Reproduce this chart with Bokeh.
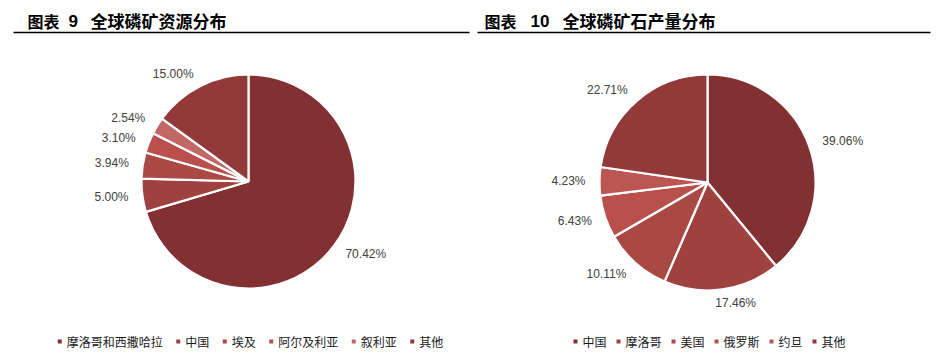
import math
from bokeh.plotting import figure
from bokeh.models import Range1d, ColumnDataSource
from bokeh.core.properties import value
from bokeh.embed import file_html
from bokeh.resources import INLINE

# ---------------- data ----------------
res_categories = ["摩洛哥和西撒哈拉", "中国", "埃及", "阿尔及利亚", "叙利亚", "其他"]
res_values = [70.42, 5.00, 3.94, 3.10, 2.54, 15.00]

prod_categories = ["中国", "摩洛哥", "美国", "俄罗斯", "约旦", "其他"]
prod_values = [39.06, 17.46, 10.11, 6.43, 4.23, 22.71]

res_colors = ["#833033", "#9f423f", "#aa4844", "#b9504b", "#c26864", "#923a3a"]
prod_colors = ["#833033", "#9f423f", "#aa4844", "#b9504b", "#bc5652", "#923a3a"]

W, H = 947, 356


def Y(img_y):
    return H - img_y


p = figure(width=W, height=H, output_backend="svg", toolbar_location=None,
           x_range=Range1d(0, W), y_range=Range1d(0, H),
           x_axis_type=None, y_axis_type=None, min_border=0,
           outline_line_color=None)
p.xgrid.visible = False
p.ygrid.visible = False
p.background_fill_color = "white"
p.border_fill_color = "white"

LABEL_FONT = value("Liberation Sans")
CJK_FONT = value("Noto Sans CJK SC")


def draw_pie(cats, vals, colors, cx, cy_img, r, legend_gap):
    cy = Y(cy_img)
    total = sum(vals)
    starts, ends, mids = [], [], []
    acc = 0.0
    for v in vals:
        f0 = acc / total
        acc += v
        f1 = acc / total
        starts.append(math.pi / 2 - f0 * 2 * math.pi)
        ends.append(math.pi / 2 - f1 * 2 * math.pi)
        mids.append((f0 + f1) / 2 * 2 * math.pi)  # clockwise from top
    src = ColumnDataSource(dict(start=starts, end=ends, color=colors))
    p.wedge(x=cx, y=cy, radius=r, start_angle="start", end_angle="end",
            direction="clock", fill_color="color", line_color="white",
            line_width=2.2, source=src)

    # data labels
    lx, ly, txt, align, xoff = [], [], [], [], []
    for v, m in zip(vals, mids):
        s, c = math.sin(m), math.cos(m)
        rr = r + 14
        lx.append(cx + rr * s)
        ly.append(cy + rr * c)
        t = f"{v:.2f}%"
        txt.append(t)
        w = 6.67 * (len(t) - 2) + 3.3 + 10.7
        f = max(-1.0, min(1.0, 4 * s))
        if f >= 1:
            align.append("left"); xoff.append(0)
        elif f <= -1:
            align.append("right"); xoff.append(0)
        else:
            align.append("center"); xoff.append(f * w / 2)
    lsrc = ColumnDataSource(dict(x=lx, y=ly, text=txt, align=align, xoff=xoff))
    p.text(x="x", y="y", text="text", text_align="align", x_offset="xoff",
           text_baseline="middle", text_font=LABEL_FONT, text_font_size="12px",
           text_color="#404040", source=lsrc)

    # legend
    widths = [7 + 12 * len(cname) for cname in cats]
    total_w = sum(widths) + legend_gap * (len(cats) - 1)
    x = cx - total_w / 2 + 3
    mx, tx = [], []
    for wdt in widths:
        mx.append(x)
        tx.append(x + 7)
        x += wdt + legend_gap
    ly_leg = Y(341)
    p.scatter(x=mx, y=[ly_leg] * len(mx), marker="square", size=4,
              fill_color=colors, line_color=None)
    p.text(x=tx, y=[ly_leg] * len(tx), text=cats, text_baseline="middle",
           text_font=CJK_FONT, text_font_size="12px", text_color="#1a1a1a")


draw_pie(res_categories, res_values, res_colors, 248, 181, 107, 15.5)
draw_pie(prod_categories, prod_values, prod_colors, 707, 182, 108, 12)

# titles
title_y = Y(20)
p.text(x=[27, 484], y=[title_y, title_y], text=["图表", "图表"],
       text_font=CJK_FONT, text_font_style="bold", text_font_size="16px",
       text_baseline="middle", text_color="black")
p.text(x=[68, 530], y=[title_y, title_y], text=["9", "10"],
       text_font=LABEL_FONT, text_font_style="bold", text_font_size="17px",
       text_baseline="middle", text_color="black")
p.text(x=[90, 562], y=[title_y, title_y], text=["全球磷矿资源分布", "全球磷矿石产量分布"],
       text_font=CJK_FONT, text_font_style="bold", text_font_size="17px",
       text_baseline="middle", text_color="black")
p.segment(x0=[13, 477], y0=[Y(32), Y(32)], x1=[469, 930], y1=[Y(32), Y(32)],
          line_color="black", line_width=1.5)

open("out.html", "w").write(file_html(p, INLINE))
